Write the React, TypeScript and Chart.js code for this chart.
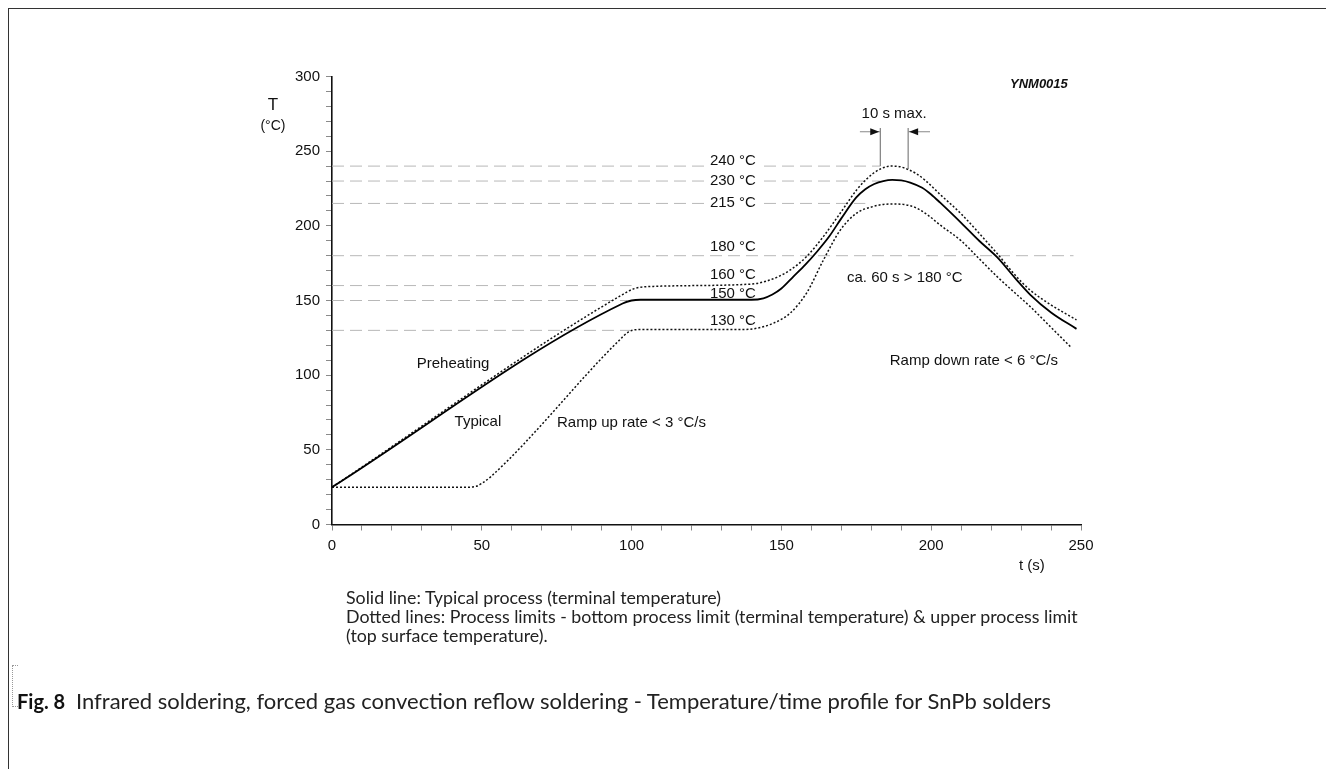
import React, { useEffect, useRef } from 'react';
import { Chart, registerables } from 'chart.js';
Chart.register(...registerables);

// ---- data (time in s, temperature in °C) ----
const typicalTime = [0, 97, 100, 103, 140, 144, 147, 150, 154, 158, 162, 166, 170, 175, 178, 181, 184, 187, 190, 193, 197, 200, 203, 210, 216, 222, 228, 233, 240, 248.5];
const typicalTemp = [25, 148, 150, 150.5, 150.5, 151.5, 154, 158, 166, 174, 183, 193, 205, 219, 224.5, 228, 230, 230.8, 230.5, 229, 225.5, 221, 215.5, 202, 190, 179, 165, 154, 142, 131];

const upperTime = [0, 97, 101, 108, 140, 145, 149, 153, 158.4, 164, 169.6, 175.1, 178, 180.7, 183.5, 186.5, 189, 192, 195, 198, 203, 210, 216, 222, 228, 233, 240, 248.5];
const upperTemp = [25, 154, 158, 159.5, 161, 163, 166, 170.5, 179.4, 192.8, 208.4, 224, 230.5, 235.2, 238.5, 240, 239.8, 238, 235, 230.5, 221, 208, 195, 181.5, 167, 157, 147, 137];

const lowerTime = [0, 45, 48, 50, 53, 96, 99, 102, 120, 136, 142, 147.3, 152.9, 158.4, 164, 169.6, 175.1, 180.7, 184, 187.5, 191.7, 195, 199, 203, 210, 216, 222, 228, 233, 240, 246.5];
const lowerTemp = [25, 25, 25.5, 27.5, 32, 123.6, 129, 130.5, 130.5, 130.5, 131.5, 134.8, 141.5, 155, 177, 197, 208.5, 213, 214.3, 214.7, 214, 212, 207, 200.5, 190, 178, 166, 155, 146, 132, 119];

const refLevels = [240, 230, 215, 180, 160, 150, 130];
const refEnds = [183, 183, 178, 247.5, 100, 98.5, 99.5];
const refLabels = ['240 °C', '230 °C', '215 °C', '180 °C', '160 °C', '150 °C', '130 °C'];

const xTickMajor = 50;
const yTickMajor = 50;

const FONT = '"Liberation Sans", Arial, Helvetica, sans-serif';

const toPts = (xs: number[], ys: number[]) => xs.map((x, i) => ({ x, y: ys[i] }));

export default function App() {
  const ref = useRef<HTMLCanvasElement | null>(null);

  useEffect(() => {
    document.body.style.margin = '0';
    const canvas = ref.current;
    if (!canvas) return;

    const refDatasets = refLevels.map((lv, i) => ({
      type: 'line' as const,
      data: [{ x: 0, y: lv }, { x: refEnds[i], y: lv }],
      borderColor: '#b8b8b8',
      borderWidth: 1,
      borderDash: [12, 6],
      pointRadius: 0,
      order: 5,
    }));

    const f15 = `15px ${FONT}`;
    const text = (ctx: CanvasRenderingContext2D, s: string, x: number, y: number, align: CanvasTextAlign, font: string, bg = false) => {
      ctx.font = font;
      ctx.textAlign = align;
      ctx.textBaseline = 'middle';
      if (bg) {
        const w = ctx.measureText(s).width;
        let lx = x;
        if (align === 'right') lx = x - w;
        else if (align === 'center') lx = x - w / 2;
        ctx.fillStyle = '#fff';
        ctx.fillRect(lx - 3, y - 7, w + 6, 14);
      }
      ctx.fillStyle = '#111';
      ctx.fillText(s, x, y);
    };

    let refDrawn = 0;
    const labelOffsets = [-5, 0, -1, -9, -11, -7, -10];

    const annotations = {
      id: 'annotations',
      beforeDatasetsDraw() {
        refDrawn = 0;
      },
      afterDatasetDraw(chart: any, args: any) {
        if (args.index >= refLevels.length) return;
        refDrawn += 1;
        if (refDrawn !== refLevels.length) return;
        // level labels sit on top of the dashed guides, under the curves
        const ctx = chart.ctx as CanvasRenderingContext2D;
        const px = (v: number) => chart.scales.x.getPixelForValue(v);
        const py = (v: number) => chart.scales.y.getPixelForValue(v);
        ctx.save();
        refLevels.forEach((lv, i) => {
          text(ctx, refLabels[i], px(141.5), py(lv) + labelOffsets[i], 'right', f15, true);
        });
        ctx.restore();
      },
      afterDatasetsDraw(chart: any) {
        const ctx = chart.ctx as CanvasRenderingContext2D;
        const px = (v: number) => chart.scales.x.getPixelForValue(v);
        const py = (v: number) => chart.scales.y.getPixelForValue(v);
        ctx.save();
        text(ctx, 'Preheating', px(40.4), py(107.5), 'center', f15);
        text(ctx, 'Typical', px(48.7), py(68.7), 'center', f15);
        text(ctx, 'Ramp up rate < 3 °C/s', px(75.1), py(68), 'left', f15);
        text(ctx, 'ca. 60 s > 180 °C', px(171.9), py(165.1), 'left', f15);
        text(ctx, 'Ramp down rate < 6 °C/s', px(242.3), py(109.5), 'right', f15);
        text(ctx, '10 s max.', px(187.6), py(275), 'center', f15);
        text(ctx, 'YNM0015', px(226.3), py(294.4), 'left', `italic bold 13px ${FONT}`);
        text(ctx, 'T', px(-19.7), py(281), 'center', `17px ${FONT}`);
        text(ctx, '(°C)', px(-19.7), py(267), 'center', `14px ${FONT}`);
        text(ctx, 't (s)', px(233.6), py(-27.8), 'center', f15);

        // 10 s max. markers
        ctx.strokeStyle = '#666';
        ctx.lineWidth = 1;
        ctx.beginPath();
        ctx.moveTo(px(183), py(265.5));
        ctx.lineTo(px(183), py(240));
        ctx.moveTo(px(192.3), py(265.5));
        ctx.lineTo(px(192.3), py(238));
        ctx.stroke();
        const ay = py(263);
        const arrow = (from: number, tip: number) => {
          const x0 = px(from);
          const x1 = px(tip);
          const dir = Math.sign(x1 - x0);
          ctx.strokeStyle = '#888';
          ctx.beginPath();
          ctx.moveTo(x0, ay);
          ctx.lineTo(x1, ay);
          ctx.stroke();
          ctx.fillStyle = '#111';
          ctx.beginPath();
          ctx.moveTo(x1 - dir * 1, ay);
          ctx.lineTo(x1 - dir * 10, ay - 3.5);
          ctx.lineTo(x1 - dir * 10, ay + 3.5);
          ctx.closePath();
          ctx.fill();
        };
        arrow(176.2, 183);
        arrow(199.6, 192.3);
        ctx.restore();
      },
    };

    const tickCb = (major: number) => (v: any) => (Number(v) % major === 0 ? String(v) : '');

    const chart = new Chart(canvas, {
      type: 'line',
      data: {
        datasets: [
          ...refDatasets,
          {
            type: 'line',
            data: toPts(lowerTime, lowerTemp),
            borderColor: '#111',
            borderWidth: 1.5,
            borderDash: [2, 2],
            pointRadius: 0,
            cubicInterpolationMode: 'monotone',
            order: 2,
          },
          {
            type: 'line',
            data: toPts(upperTime, upperTemp),
            borderColor: '#111',
            borderWidth: 1.5,
            borderDash: [2, 2],
            pointRadius: 0,
            cubicInterpolationMode: 'monotone',
            order: 2,
          },
          {
            type: 'line',
            data: toPts(typicalTime, typicalTemp),
            borderColor: '#000',
            borderWidth: 1.8,
            pointRadius: 0,
            cubicInterpolationMode: 'monotone',
            order: 1,
          },
        ],
      },
      options: {
        animation: false,
        responsive: true,
        maintainAspectRatio: false,
        parsing: false as any,
        layout: { padding: { left: 332 - 60, top: 76.5, right: 245, bottom: 244.5 - 40 } },
        plugins: { legend: { display: false }, tooltip: { enabled: false } },
        events: [],
        scales: {
          x: {
            type: 'linear',
            min: 0,
            max: 250,
            afterFit: (s: any) => { s.height = 40; },
            ticks: {
              stepSize: 10,
              autoSkip: false,
              maxRotation: 0,
              padding: 6,
              color: '#111',
              font: { family: FONT, size: 15 },
              callback: tickCb(xTickMajor),
            },
            grid: { drawOnChartArea: false, drawTicks: true, tickLength: 6, color: '#8a8a8a' },
            border: { display: true, color: '#111', width: 1.6 },
          },
          y: {
            type: 'linear',
            min: 0,
            max: 300,
            afterFit: (s: any) => { s.width = 60; },
            ticks: {
              stepSize: 10,
              autoSkip: false,
              padding: 6,
              color: '#111',
              font: { family: FONT, size: 15 },
              callback: tickCb(yTickMajor),
            },
            grid: { drawOnChartArea: false, drawTicks: true, tickLength: 6, color: '#8a8a8a' },
            border: { display: true, color: '#111', width: 1.6 },
          },
        },
      },
      plugins: [annotations],
    });
    return () => chart.destroy();
  }, []);

  const cap: React.CSSProperties = {
    position: 'absolute',
    fontFamily: 'Lato, "Open Sans", sans-serif',
    color: '#222',
    whiteSpace: 'nowrap',
  };

  return (
    <div style={{ position: 'fixed', left: 0, top: 0, width: 1326, height: 769, background: '#fff', overflow: 'hidden' }}>
      <div style={{ position: 'absolute', left: 8, top: 8, width: 1400, height: 800, borderTop: '1.5px solid #333', borderLeft: '1.5px solid #333' }} />
      <div style={{ position: 'absolute', left: 0, top: 0, width: 1326, height: 769 }}>
        <canvas ref={ref} />
      </div>
      <div style={{ ...cap, left: 346, top: 588, fontSize: 17.8, lineHeight: '19px' }}>
        Solid line: Typical process (terminal temperature)
        <br />
        Dotted lines: Process limits - bottom process limit (terminal temperature) &amp; upper process limit
        <br />
        (top surface temperature).
      </div>
      <div style={{ position: 'absolute', left: 12, top: 665, width: 5, height: 40, borderLeft: '1px dotted #999', borderTop: '1px dotted #999', borderBottom: '1px dotted #999' }} />
      <div style={{ ...cap, left: 17, top: 689, fontSize: 20, lineHeight: '24px', fontWeight: 700, color: '#111' }}>Fig. 8</div>
      <div style={{ ...cap, left: 76, top: 688, fontSize: 22, lineHeight: '26px' }}>
        Infrared soldering, forced gas convection reflow soldering - Temperature/time profile for SnPb solders
      </div>
    </div>
  );
}
